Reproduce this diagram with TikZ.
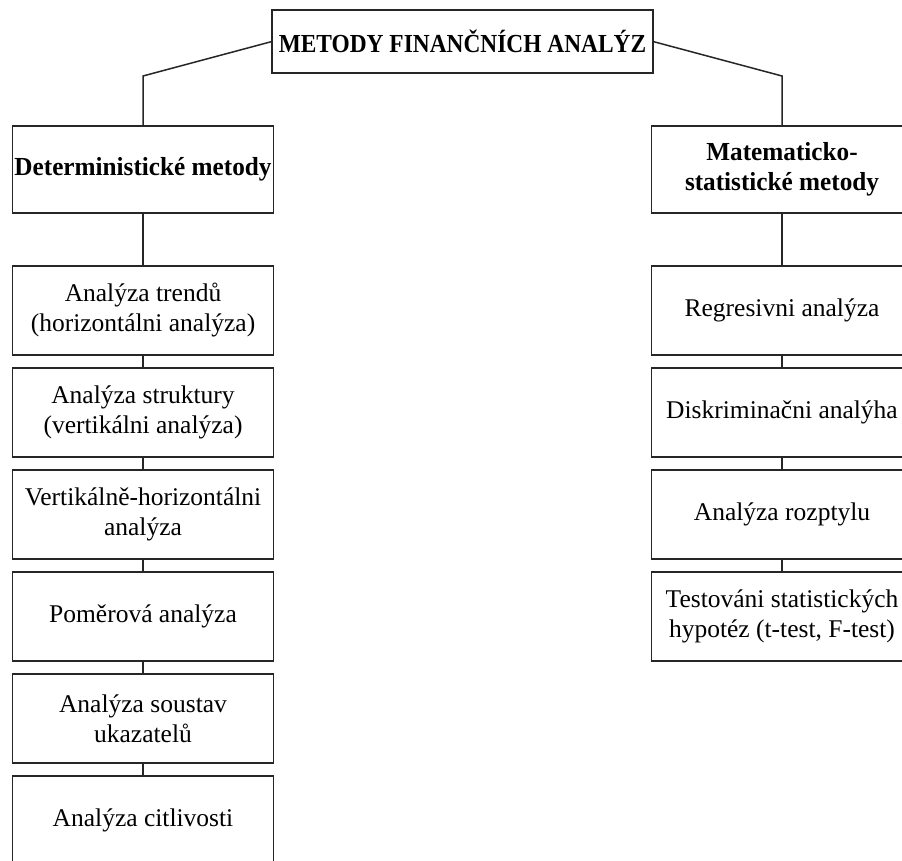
\documentclass[tikz,border=0pt]{standalone}
\usepackage{fontspec}
\setmainfont{Liberation Serif}
\newfontfamily\headfont{Liberation Serif}[FakeStretch=0.97]
\newfontfamily\titlefont{Liberation Serif}[FakeStretch=0.9]
\usetikzlibrary{positioning}

\begin{document}
\begin{tikzpicture}[x=1pt,y=-1pt,node distance=13pt,
  every node/.style={draw=black!85,line width=1.9pt,outer sep=0pt,align=center,font=\fontsize{25.5}{30}\selectfont},
  head/.style={font=\headfont\bfseries\fontsize{26}{30}\selectfont},
  item/.style={minimum width=261pt,minimum height=89pt,inner sep=2pt},
  link/.style={draw=black!85,line width=1.5pt}]
  \useasboundingbox (0,0) rectangle (902,861);
  \node[head,font=\titlefont\bfseries\fontsize{26}{30}\selectfont,minimum width=381pt,minimum height=63pt] (title) at (462.5,41.5) {METODY FINANČNÍCH ANALÝZ};
  \node[head,item,minimum height=87pt] (det) at (143,169.5) {Deterministické metody};
  \node[head,item,minimum height=87pt] (mat) at (782,169.5) {Matematicko-\\statistické metody};
  % deterministic methods
  \node[item,below=53pt of det] (trend) {Analýza trendů\\(horizontálni analýza)};
  \node[item,below=of trend] (struct) {Analýza struktury\\(vertikálni analýza)};
  \node[item,below=of struct] (vh) {Vertikálně-horizontálni\\analýza};
  \node[item,below=of vh] (ratio) {Poměrová analýza};
  \node[item,below=of ratio] (sys) {Analýza soustav\\ukazatelů};
  \node[item,below=of sys] (sens) {Analýza citlivosti};
  % statistical methods
  \node[item,below=53pt of mat] (regr) {Regresivni analýza};
  \node[item,below=of regr] (discr) {Diskriminačni analýha};
  \node[item,below=of discr] (var) {Analýza rozptylu};
  \node[item,below=of var] (test) {Testováni statistických\\hypotéz (t-test, F-test)};
  \draw[link] (title.west) -- ([yshift=50pt]det.north) -- (det.north);
  \draw[link] (title.east) -- ([yshift=50pt]mat.north) -- (mat.north);
  \draw[link] (det) -- (trend);
  \draw[link] (trend) -- (struct);
  \draw[link] (struct) -- (vh);
  \draw[link] (vh) -- (ratio);
  \draw[link] (ratio) -- (sys);
  \draw[link] (sys) -- (sens);
  \draw[link] (mat) -- (regr);
  \draw[link] (regr) -- (discr);
  \draw[link] (discr) -- (var);
  \draw[link] (var) -- (test);
\end{tikzpicture}
\end{document}
